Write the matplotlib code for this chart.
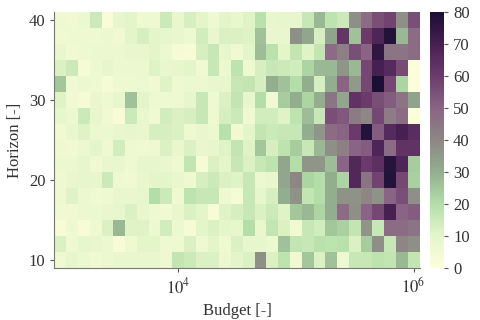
import numpy as np
import matplotlib
matplotlib.use("Agg")
import matplotlib.pyplot as plt
from matplotlib.colors import LinearSegmentedColormap

# budget exponents (log10) of the column centres, horizon values of the rows
budget_exp = [3.0 + 0.1 * i for i in range(31)]
horizon = [40, 38, 36, 34, 32, 30, 28, 26, 24, 22, 20, 18, 16, 14, 12, 10]

# cell values, row per horizon (top to bottom)
left = [
    [6, 5, 7, 15, 2, 9, 10, 6, 6, 15, 8],
    [5, 6, 6, 6, 7, 5, 10, 13, 10, 9, 8],
    [8, 5, 6, 7, 7, 7, 8, 8, 10, 7, 4],
    [12, 15, 4, 6, 9, 7, 7, 7, 11, 8, 9],
    [25, 5, 7, 6, 4, 6, 6, 7, 5, 11, 6],
    [11, 5, 4, 8, 6, 9, 26, 10, 6, 6, 6],
    [9, 7, 15, 9, 5, 3, 15, 8, 5, 14, 12],
    [5, 8, 11, 7, 7, 8, 9, 8, 13, 13, 12],
    [6, 5, 7, 10, 6, 14, 6, 5, 6, 12, 8],
    [7, 7, 9, 5, 8, 8, 6, 9, 9, 8, 6],
    [6, 8, 9, 9, 15, 6, 5, 8, 10, 10, 8],
    [6, 11, 7, 5, 6, 8, 8, 9, 20, 15, 6],
    [5, 5, 7, 7, 8, 9, 12, 8, 6, 5, 8],
    [3, 6, 3, 6, 12, 28, 11, 11, 7, 14, 7],
    [12, 6, 9, 8, 7, 3, 6, 10, 10, 6, 6],
    [5, 9, 7, 5, 7, 8, 8, 8, 8, 6, 17],
]
middle = [
    [13, 10, 6, 10, 8, 11, 19, 8, 9, 9],
    [6, 14, 8, 12, 12, 11, 26, 8, 8, 38],
    [3, 13, 16, 9, 5, 10, 27, 19, 10, 17],
    [10, 5, 16, 7, 18, 6, 13, 16, 15, 14],
    [7, 7, 8, 9, 16, 17, 13, 30, 26, 20],
    [9, 16, 6, 12, 17, 9, 20, 5, 24, 30],
    [13, 16, 6, 13, 15, 6, 14, 14, 11, 18],
    [6, 8, 7, 19, 5, 10, 17, 15, 16, 16],
    [12, 8, 9, 11, 17, 11, 25, 13, 18, 24],
    [17, 4, 12, 10, 16, 12, 16, 18, 32, 20],
    [6, 13, 15, 12, 11, 16, 7, 8, 32, 40],
    [18, 16, 16, 6, 4, 16, 9, 13, 30, 37],
    [12, 10, 3, 11, 13, 16, 12, 15, 11, 25],
    [4, 10, 12, 10, 9, 20, 8, 17, 12, 5],
    [12, 6, 10, 6, 12, 9, 9, 7, 26, 17],
    [15, 12, 12, 7, 10, 12, 38, 12, 18, 5],
]
right = [
    [16, 28, 18, 15, 38, 48, 55, 58, 38, 55],
    [32, 13, 33, 62, 26, 60, 68, 78, 28, 48],
    [11, 17, 48, 42, 55, 50, 75, 45, 45, 48],
    [22, 28, 28, 36, 28, 57, 70, 66, 56, 1],
    [30, 13, 30, 50, 35, 57, 80, 57, 22, 1],
    [22, 30, 45, 32, 63, 60, 55, 52, 45, 33],
    [27, 16, 55, 53, 44, 40, 57, 43, 48, 1],
    [30, 36, 48, 50, 60, 78, 52, 66, 70, 65],
    [16, 28, 38, 42, 50, 52, 68, 48, 63, 63],
    [36, 36, 27, 50, 67, 60, 64, 77, 68, 24],
    [22, 20, 30, 22, 67, 46, 58, 78, 57, 23],
    [17, 20, 30, 37, 37, 40, 37, 50, 55, 38],
    [28, 22, 30, 48, 38, 50, 57, 70, 50, 52],
    [16, 14, 25, 23, 17, 36, 16, 48, 48, 45],
    [16, 19, 18, 19, 12, 24, 38, 16, 40, 38],
    [25, 12, 26, 6, 16, 16, 18, 17, 28, 17],
]

values = np.hstack([np.array(left), np.array(middle), np.array(right)])

plt.rcParams['font.family'] = ['Liberation Serif', 'DejaVu Serif']
plt.rcParams['mathtext.fontset'] = 'stix'
plt.rcParams['text.color'] = '#333333'
plt.rcParams['axes.labelcolor'] = '#333333'
plt.rcParams['xtick.color'] = '#333333'
plt.rcParams['ytick.color'] = '#333333'

cmap = LinearSegmentedColormap.from_list("tokyo_r", [
    "#fefedb", "#e4f5ca", "#b3dea8", "#93ae8f", "#8d8784",
    "#8a6584", "#6c3b6c", "#472052", "#1b0f33"])

x_edges = 10 ** (np.array(budget_exp[0] - 0.05) + 0.1 * np.arange(len(budget_exp) + 1))
h = np.array(horizon)[::-1]
y_edges = np.append(h - 1, h[-1] + 1)

fig = plt.figure(figsize=(4.8, 3.2), dpi=100)
ax = fig.add_axes([0.1135, 0.1625, 0.7605, 0.8])
cax = fig.add_axes([0.896, 0.1625, 0.029, 0.8])

mesh = ax.pcolormesh(x_edges, y_edges, values[::-1], cmap=cmap, vmin=0, vmax=80)
ax.set_xscale('log')
ax.set_xlim(x_edges[0], x_edges[-1])
ax.set_ylim(y_edges[0], y_edges[-1])
ax.set_xticks([1e4, 1e6])
ax.set_xticklabels([r'$10^4$', r'$10^6$'])
ax.minorticks_off()
ax.set_yticks([10, 20, 30, 40])
ax.tick_params(labelsize=12, length=3, color='#555555')
for s in ['top', 'right']:
    ax.spines[s].set_visible(False)
for s in ['left', 'bottom']:
    ax.spines[s].set_color('#777777')
ax.set_xlabel('Budget [-]', fontsize=12)
ax.set_ylabel('Horizon [-]', fontsize=12)

cb = fig.colorbar(mesh, cax=cax)
cb.set_ticks(range(0, 81, 10))
cb.outline.set_visible(False)
cb.ax.tick_params(labelsize=12, length=3, color='#555555')

fig.savefig('out.png', dpi=100)
